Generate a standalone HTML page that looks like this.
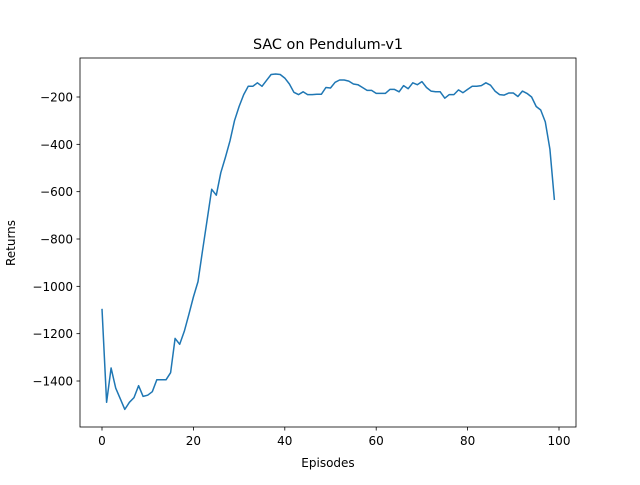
<!DOCTYPE html>
<html><head><meta charset="utf-8"><style>
body{margin:0;background:#fff}
svg text{font-family:"DejaVu Sans","Liberation Sans",sans-serif;fill:#000}
</style></head><body>
<svg id="chart" width="640" height="480">
<rect width="640" height="480" fill="#fff"/>
<text x="328" y="49" text-anchor="middle" font-size="14.4">SAC on Pendulum-v1</text>
<g id="xt"></g>
<g id="yt"></g>
<path id="line" fill="none" stroke="#1f77b4" stroke-width="1.5" stroke-linejoin="round"/>
<rect x="80" y="58" width="496" height="369" fill="none" stroke="#000" stroke-width="0.8"/>
<text x="328" y="467" text-anchor="middle" font-size="12">Episodes</text>
<text transform="translate(15,243) rotate(-90)" text-anchor="middle" font-size="12">Returns</text>
</svg>
<script>
const returns=[-1095,-1490,-1345,-1430,-1475,-1520,-1490,-1470,-1420,-1465,-1460,-1445,-1395,-1395,-1395,-1365,-1220,-1245,-1190,-1120,-1045,-980,-850,-720,-590,-615,-520,-455,-385,-300,-240,-190,-155,-155,-140,-155,-130,-105,-103,-105,-120,-145,-180,-190,-178,-190,-190,-188,-188,-160,-162,-138,-128,-128,-133,-145,-148,-160,-172,-172,-185,-185,-185,-168,-168,-178,-152,-165,-140,-148,-135,-160,-175,-178,-178,-205,-190,-190,-170,-182,-168,-155,-155,-152,-140,-150,-175,-190,-192,-183,-183,-198,-175,-185,-200,-240,-255,-305,-420,-635];
const xTicks=[0,20,40,60,80,100];
const yTicks=[-1400,-1200,-1000,-800,-600,-400,-200];
const X=v=>102+v*4.57;
const Y=v=>97-(v+200)*0.23667;
const ns="http://www.w3.org/2000/svg";
document.getElementById('line').setAttribute('d',returns.map((v,i)=>(i?'L':'M')+X(i).toFixed(1)+','+Y(v).toFixed(1)).join(''));
const xg=document.getElementById('xt'),yg=document.getElementById('yt');
xTicks.forEach(t=>{
 const l=document.createElementNS(ns,'line');
 
 
 l.setAttribute('x1',X(t));l.setAttribute('x2',X(t));l.setAttribute('y1',427);l.setAttribute('y2',430.5);l.setAttribute('stroke','#000');l.setAttribute('stroke-width','0.8');
 xg.appendChild(l);
 const s=document.createElementNS(ns,'text');
 
 
 s.setAttribute('x',X(t));s.setAttribute('y',445);s.setAttribute('text-anchor','middle');s.setAttribute('font-size','12');
 s.textContent=t;xg.appendChild(s);
});
yTicks.forEach(t=>{
 const l=document.createElementNS(ns,'line');
 
 
 l.setAttribute('x1',76.5);l.setAttribute('x2',80);l.setAttribute('y1',Y(t));l.setAttribute('y2',Y(t));l.setAttribute('stroke','#000');l.setAttribute('stroke-width','0.8');
 yg.appendChild(l);
 const s=document.createElementNS(ns,'text');
 
 
 s.setAttribute('x',73);s.setAttribute('y',Y(t)+4.5);s.setAttribute('text-anchor','end');s.setAttribute('font-size','12');
 s.textContent='\u2212'+Math.abs(t);yg.appendChild(s);
});
</script>
</body></html>
